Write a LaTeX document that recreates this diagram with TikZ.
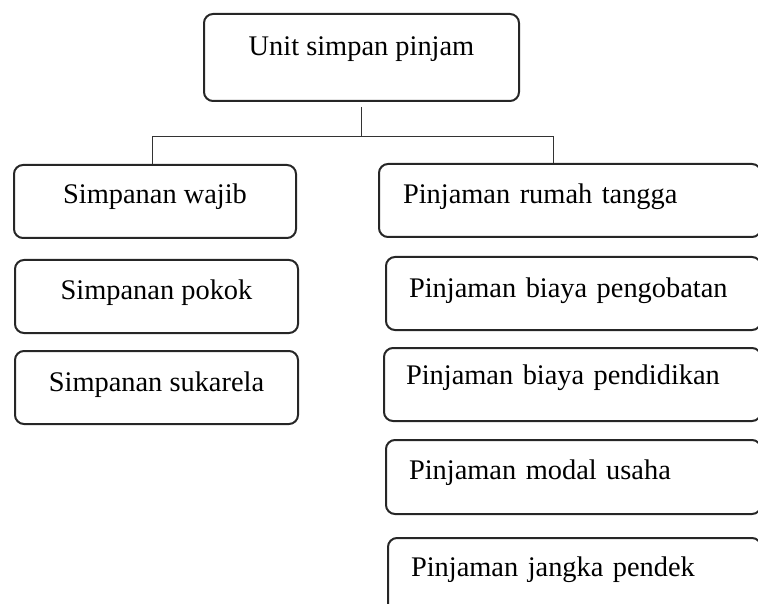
\documentclass[tikz,border=0pt]{standalone}
\usepackage{fontspec}
\setmainfont{Liberation Serif}
\begin{document}
\begin{tikzpicture}[x=1pt,y=-1pt,
  font=\fontsize{28.4}{34}\selectfont,
  boxbase/.style={draw=black!85, line width=2pt, rounded corners=9pt, inner ysep=0pt, anchor=north west},
  cbox/.style={boxbase, inner xsep=0pt, align=center},
  rbox/.style={boxbase, align=left},
  conn/.style={draw=black!80, line width=1pt}]
\useasboundingbox (0,0) rectangle (758,604);
% top
\node[cbox, minimum width=315pt, text height=42pt, text depth=45pt] (top) at (203,13) {Unit simpan pinjam};
% left column
\node[cbox, minimum width=282pt, text height=39pt, text depth=34pt] (sw) at (13,164) {Simpanan wajib};
\node[cbox, minimum width=283pt, text height=39pt, text depth=34pt] (sp) at (14,259) {Simpanan pokok};
\node[cbox, minimum width=283pt, text height=40pt, text depth=33pt] (ss) at (14,350) {Simpanan sukarela};
% right column
\node[rbox, inner xsep=24pt, text width=334pt, text height=40pt, text depth=33pt] (pr) at (378,163) {Pinjaman rumah tangga};
\node[rbox, inner xsep=23pt, text width=329pt, text height=41pt, text depth=32pt] (pb) at (385,256) {Pinjaman biaya pengobatan};
\node[rbox, inner xsep=22pt, text width=333pt, text height=36pt, text depth=37pt] (pd) at (383,347) {Pinjaman biaya pendidikan};
\node[rbox, inner xsep=23pt, text width=329pt, text height=39pt, text depth=35pt] (pm) at (385,439) {Pinjaman modal usaha};
\node[rbox, inner xsep=23pt, text width=327pt, text height=38pt, text depth=38pt] (pj) at (387,537) {Pinjaman jangka pendek};
% connectors
\coordinate (jl) at (152,137);
\coordinate (jr) at (553,137);
\draw[conn] ([yshift=-5pt]top.south) -- (top.south |- jl);
\draw[conn] (jl |- sw.north) -- (jl) -- (jr) -- (jr |- pr.north);
\end{tikzpicture}
\end{document}
